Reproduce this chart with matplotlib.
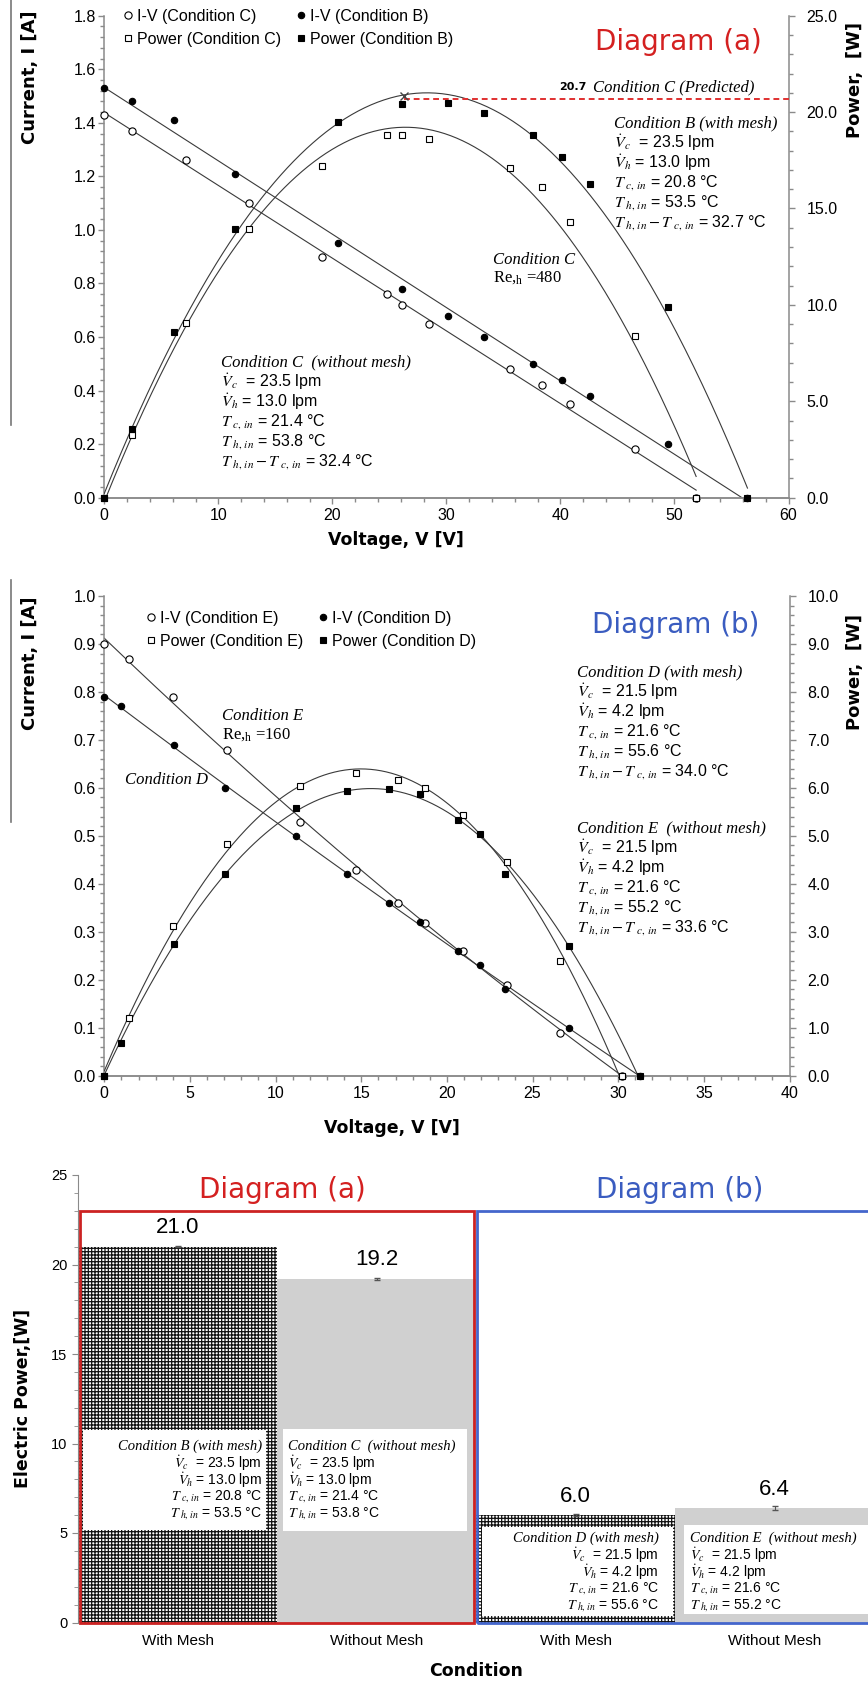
import numpy as np
import matplotlib
matplotlib.use('Agg')
import matplotlib.pyplot as plt
from matplotlib.lines import Line2D
from matplotlib.patches import Rectangle
from matplotlib.ticker import MultipleLocator, FormatStrFormatter

plt.rcParams['font.family'] = ['Liberation Sans', 'DejaVu Sans']
plt.rcParams['mathtext.fontset'] = 'stix'
plt.rcParams['hatch.linewidth'] = 0.9

# ---------------- data: Diagram (a) ----------------
V_C = [0, 2.4, 7.2, 12.7, 19.1, 24.8, 26.1, 28.5, 35.6, 38.4, 40.8, 46.5, 51.9]
I_C = [1.43, 1.37, 1.26, 1.10, 0.90, 0.76, 0.72, 0.65, 0.48, 0.42, 0.35, 0.18, 0.0]
P_C = [0, 3.25, 9.08, 13.95, 17.19, 18.83, 18.81, 18.60, 17.08, 16.11, 14.32, 8.40, 0]
V_B = [0, 2.4, 6.1, 11.5, 20.5, 26.1, 30.1, 33.3, 37.6, 40.1, 42.6, 49.4, 56.4]
I_B = [1.53, 1.48, 1.41, 1.21, 0.95, 0.78, 0.68, 0.60, 0.50, 0.44, 0.38, 0.20, 0.0]
P_B = [0, 3.54, 8.60, 13.94, 19.48, 20.44, 20.47, 19.97, 18.79, 17.67, 16.25, 9.89, 0]
V_PRED = 26.3
P_PRED = 20.7

# ---------------- data: Diagram (b) ----------------
V_E = [0, 1.43, 3.99, 7.16, 11.43, 14.72, 17.16, 18.73, 20.95, 23.5, 26.6, 30.2]
I_E = [0.90, 0.869, 0.789, 0.680, 0.528, 0.429, 0.360, 0.319, 0.260, 0.190, 0.090, 0.0]
P_E = [0, 1.20, 3.13, 4.82, 6.04, 6.32, 6.16, 6.00, 5.44, 4.46, 2.39, 0]
V_D = [0, 0.96, 4.04, 7.07, 11.17, 14.14, 16.61, 18.44, 20.63, 21.93, 23.42, 27.1, 31.27]
I_D = [0.79, 0.77, 0.69, 0.60, 0.50, 0.42, 0.36, 0.32, 0.26, 0.23, 0.18, 0.10, 0.0]
P_D = [0, 0.69, 2.75, 4.20, 5.59, 5.93, 5.97, 5.87, 5.34, 5.04, 4.20, 2.71, 0]

# ---------------- data: bar chart ----------------
bar_labels = ['With Mesh', 'Without Mesh', 'With Mesh', 'Without Mesh']
bar_power = [21.0, 19.2, 6.0, 6.4]
bar_err = [0.05, 0.05, 0.05, 0.1]

W, H = 868, 1684
fig = plt.figure(figsize=(W / 100, H / 100), dpi=100)

def P(x, y):
    return (x / W, 1 - y / H)

def rect(l, r, t, b):
    return [l / W, 1 - b / H, (r - l) / W, (b - t) / H]

RED = '#d42020'
BLUE = '#3a5cc0'
SPINE = '#8a8a8a'
LINE = '#3a3a3a'
BOLD = dict(family='DejaVu Sans', fontweight='bold')

def style_axes(ax, axr, xmaj, xmin, ymaj, ymin, rmaj, rmin):
    for a in (ax, axr):
        a.spines['top'].set_visible(False)
        for s in a.spines.values():
            s.set_color(SPINE)
            s.set_linewidth(1.1)
    ax.spines['right'].set_visible(False)
    axr.spines['left'].set_visible(False)
    ax.xaxis.set_major_locator(MultipleLocator(xmaj))
    ax.xaxis.set_minor_locator(MultipleLocator(xmin))
    ax.yaxis.set_major_locator(MultipleLocator(ymaj))
    ax.yaxis.set_minor_locator(MultipleLocator(ymin))
    ax.yaxis.set_major_formatter(FormatStrFormatter('%.1f'))
    axr.yaxis.set_major_locator(MultipleLocator(rmaj))
    axr.yaxis.set_minor_locator(MultipleLocator(rmin))
    axr.yaxis.set_major_formatter(FormatStrFormatter('%.1f'))
    for a in (ax, axr):
        a.tick_params(which='both', direction='out', color=SPINE, labelsize=11.5, width=1)
        a.tick_params(which='major', length=4)
        a.tick_params(which='minor', length=3)
    ax.tick_params(axis='y', pad=2)
    axr.tick_params(axis='y', pad=9)

def mk(kind, filled):
    if kind == 'o':
        return dict(marker='o', ls='none', ms=5.2 if not filled else 4.6,
                    mfc='black' if filled else 'white', mec='black', mew=0.8)
    return dict(marker='s', ls='none', ms=5.0,
                mfc='black' if filled else 'white', mec='black', mew=0.8)

def panel(rect_px, VA, IA, PA, VB_, IB_, PB_, labA, labB, xlim, ylim, rlim,
          ticks, deg_iv, deg_p, leg_xy):
    ax = fig.add_axes(rect(*rect_px))
    axr = ax.twinx()
    ax.set_xlim(*xlim); ax.set_ylim(*ylim); axr.set_ylim(*rlim)
    style_axes(ax, axr, *ticks)
    for V, I, Pw in ((VA, IA, PA), (VB_, IB_, PB_)):
        xs = np.linspace(0, V[-1], 300)
        ax.plot(xs, np.polyval(np.polyfit(V, I, deg_iv), xs), color=LINE, lw=0.8)
        axr.plot(xs, np.polyval(np.polyfit(V, Pw, deg_p), xs), color=LINE, lw=0.8)
    ax.plot(VA, IA, clip_on=False, zorder=4, **mk('o', False))
    ax.plot(VB_, IB_, clip_on=False, zorder=4, **mk('o', True))
    axr.plot(VA, PA, clip_on=False, zorder=4, **mk('s', False))
    axr.plot(VB_, PB_, clip_on=False, zorder=4, **mk('s', True))
    handles = [Line2D([], [], **mk('o', False)), Line2D([], [], **mk('s', False)),
               Line2D([], [], **mk('o', True)), Line2D([], [], **mk('s', True))]
    labels = ['I-V (%s)' % labA, 'Power (%s)' % labA, 'I-V (%s)' % labB, 'Power (%s)' % labB]
    axr.legend(handles, labels, ncol=2, loc='upper left', bbox_to_anchor=P(*leg_xy),
               bbox_transform=fig.transFigure, frameon=False, fontsize=11.5,
               handlelength=0.6, handletextpad=0.3, columnspacing=0.9,
               labelspacing=0.5, borderpad=0, borderaxespad=0)
    return ax, axr

# ---------------- top panel ----------------
ax1, ax1r = panel((104.3, 788.5, 15.7, 497.7), V_C, I_C, P_C, V_B, I_B, P_B,
                  'Condition C', 'Condition B', (0, 60), (0, 1.8), (0, 25),
                  (10, 2, 0.2, 0.04, 5, 1), 1, 2, (123, 9))
ax1r.plot([V_PRED, 60], [P_PRED, P_PRED], color='#e03030', ls=(0, (3, 2)), lw=1.4, zorder=3)
ax1r.plot([V_PRED], [P_PRED + 0.12], marker='x', color='#444444', ms=6, mew=1, zorder=5)

# ---------------- middle panel ----------------
ax2, ax2r = panel((104.3, 789.5, 596, 1075.7), V_E, I_E, P_E, V_D, I_D, P_D,
                  'Condition E', 'Condition D', (0, 40), (0, 1.0), (0, 10),
                  (5, 1, 0.1, 0.02, 1, 0.2), 2, 2, (146, 611))

# ---------------- bottom bar chart ----------------
ax3 = fig.add_axes(rect(78, 874, 1175, 1622.5))
x = np.arange(len(bar_power))
bars = ax3.bar(x, bar_power, width=1.0, color=['white', '#d0d0d0', 'white', '#d0d0d0'],
               linewidth=0, zorder=1)
for i in (0, 2):
    bars[i].set_hatch('+' * 5)
    bars[i].set_edgecolor('#111111')
ax3.errorbar(x, bar_power, yerr=bar_err, fmt='none', ecolor='#555555', capsize=2,
             elinewidth=0.8, zorder=2)
for xi, p in zip(x, bar_power):
    ax3.annotate('%.1f' % p, (xi, p), xytext=(0, 6), textcoords='offset points',
                 ha='center', va='bottom', fontsize=16)
ax3.set_xlim(-0.5, 3.5)
ax3.set_ylim(0, 25)
for s in ('top', 'right', 'bottom'):
    ax3.spines[s].set_visible(False)
ax3.spines['left'].set_color(SPINE)
ax3.yaxis.set_major_locator(MultipleLocator(5))
ax3.yaxis.set_minor_locator(MultipleLocator(1))
ax3.tick_params(axis='y', which='both', direction='out', color=SPINE, labelsize=10.5)
ax3.tick_params(axis='y', which='major', length=4)
ax3.tick_params(axis='y', which='minor', length=3)
ax3.set_xticks(x)
ax3.set_xticklabels(bar_labels, fontsize=11)
ax3.tick_params(axis='x', length=0, pad=8)
ax3.set_xlabel('Condition', fontsize=12.5, labelpad=10, **BOLD)
ax3.set_ylabel('Electric Power,[W]', fontsize=12.5, labelpad=14, **BOLD)
ax3.add_patch(Rectangle((-0.49, 0), 1.98, 23, fill=False, ec='#cc2222', lw=2, zorder=5, clip_on=False))
ax3.add_patch(Rectangle((1.505, 0), 2.3, 23, fill=False, ec='#4466cc', lw=2, zorder=5, clip_on=False))
for (x0, x1, y0, y1) in ((-0.475, 0.445, 5.17, 10.75), (0.530, 1.455, 5.1, 10.8),
                         (1.530, 2.490, 0.35, 5.34), (2.545, 3.6, 0.5, 5.45)):
    ax3.add_patch(Rectangle((x0, y0), x1 - x0, y1 - y0, fc='white', ec='none', zorder=4))

# ---------------- texts ----------------
def cond_block(x, y, title, vals, dy, tsize, ssize, ha='left', with_dt=True):
    fig.text(*P(x, y), title, family='Liberation Serif', style='italic', fontsize=tsize,
             ha=ha, va='center')
    rows = [r'$\dot{V}_c$  = %s lpm' % vals[0], r'$\dot{V}_h$ = %s lpm' % vals[1],
            r'$T_{\ c,\, in}$ = %s °C' % vals[2], r'$T_{\ h,\, in}$ = %s °C' % vals[3]]
    if with_dt:
        rows.append(r'$T_{\ h,\, in} - T_{\ c,\, in}$ = %s °C' % vals[4])
    for k, r in enumerate(rows):
        fig.text(*P(x, y + dy * (k + 1)), r, fontsize=ssize, ha=ha, va='center')

SERIF_I = dict(family='Liberation Serif', style='italic')
SERIF = dict(family='Liberation Serif')

# top
fig.text(*P(678, 42), 'Diagram (a)', color=RED, fontsize=20, family='DejaVu Sans', ha='center', va='center')
fig.text(*P(586, 87), '20.7', fontsize=8, ha='right', va='center', **BOLD)
fig.text(*P(593, 87), 'Condition C (Predicted)', fontsize=12, ha='left', va='center', **SERIF_I)
cond_block(614, 123, 'Condition B (with mesh)', ['23.5', '13.0', '20.8', '53.5', '32.7'], 20, 12, 11.5)
cond_block(221, 362, 'Condition C  (without mesh)', ['23.5', '13.0', '21.4', '53.8', '32.4'], 20, 12, 11.5)
fig.text(*P(493, 260), 'Condition C', fontsize=12, ha='left', va='center', **SERIF_I)
fig.text(*P(493, 278), r'Re,$\mathregular{_h}$ =480', fontsize=12, ha='left', va='center', **SERIF)
fig.text(*P(30, 77), 'Current, I [A]', rotation=90, fontsize=13, ha='center', va='center', **BOLD)
fig.text(*P(855, 80), 'Power,  [W]', rotation=90, fontsize=13, ha='center', va='center', **BOLD)
fig.text(*P(396, 540), 'Voltage, V [V]', fontsize=12.5, ha='center', va='center', **BOLD)

# middle
fig.text(*P(676, 625), 'Diagram (b)', color=BLUE, fontsize=20, family='DejaVu Sans', ha='center', va='center')
cond_block(577, 672, 'Condition D (with mesh)', ['21.5', '4.2', '21.6', '55.6', '34.0'], 20, 12, 11.5)
cond_block(577, 828, 'Condition E  (without mesh)', ['21.5', '4.2', '21.6', '55.2', '33.6'], 20, 12, 11.5)
fig.text(*P(222, 716), 'Condition E', fontsize=12, ha='left', va='center', **SERIF_I)
fig.text(*P(222, 735), r'Re,$\mathregular{_h}$ =160', fontsize=12, ha='left', va='center', **SERIF)
fig.text(*P(125, 780), 'Condition D', fontsize=12, ha='left', va='center', **SERIF_I)
fig.text(*P(30, 663), 'Current, I [A]', rotation=90, fontsize=13, ha='center', va='center', **BOLD)
fig.text(*P(855, 672), 'Power,  [W]', rotation=90, fontsize=13, ha='center', va='center', **BOLD)
fig.text(*P(392, 1128), 'Voltage, V [V]', fontsize=12.5, ha='center', va='center', **BOLD)

# bottom
fig.text(*P(282, 1190), 'Diagram (a)', color=RED, fontsize=20, family='DejaVu Sans', ha='center', va='center')
fig.text(*P(680, 1190), 'Diagram (b)', color=BLUE, fontsize=20, family='DejaVu Sans', ha='center', va='center')
cond_block(262, 1446, 'Condition B (with mesh)', ['23.5', '13.0', '20.8', '53.5'], 17, 10.5, 10, ha='right', with_dt=False)
cond_block(288, 1446, 'Condition C  (without mesh)', ['23.5', '13.0', '21.4', '53.8'], 17, 10.5, 10, with_dt=False)
cond_block(659, 1538, 'Condition D (with mesh)', ['21.5', '4.2', '21.6', '55.6'], 17, 10.5, 10, ha='right', with_dt=False)
cond_block(690, 1538, 'Condition E  (without mesh)', ['21.5', '4.2', '21.6', '55.2'], 17, 10.5, 10, with_dt=False)

# left-edge gray rules
fig.add_artist(Line2D([11 / W, 11 / W], [1 - 0 / H, 1 - 425 / H], color='#777777', lw=1.2))
fig.add_artist(Line2D([11 / W, 11 / W], [1 - 580 / H, 1 - 822 / H], color='#777777', lw=1.2))

fig.savefig('out.png', dpi=100)
